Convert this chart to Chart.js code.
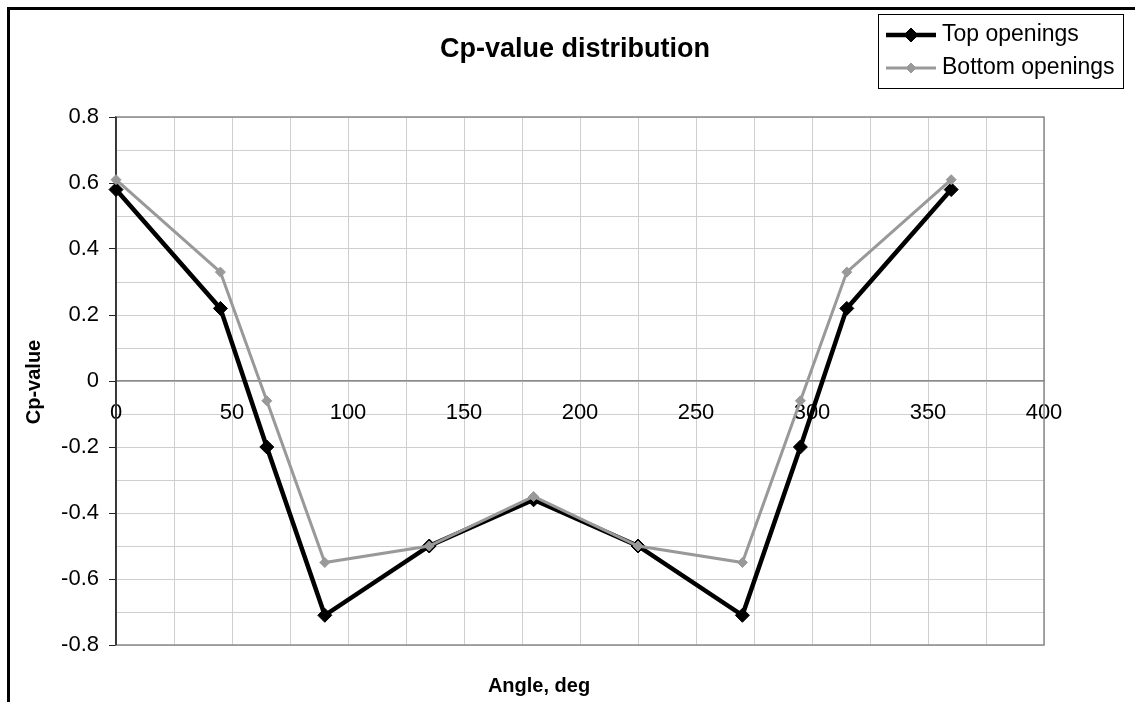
<!DOCTYPE html>
<html><head><meta charset="utf-8">
<script src="https://cdn.jsdelivr.net/npm/chart.js@4.4.0/dist/chart.umd.min.js"></script>
<style>html,body{margin:0;padding:0;background:#fff;overflow:hidden}canvas{display:block}</style>
</head><body>
<canvas id="c" width="1135" height="702"></canvas>
<script>
// ---- data ----
const angles = [0, 45, 65, 90, 135, 180, 225, 270, 295, 315, 360];
const topOpenings = [0.58, 0.22, -0.20, -0.71, -0.50, -0.36, -0.50, -0.71, -0.20, 0.22, 0.58];
const bottomOpenings = [0.61, 0.33, -0.06, -0.55, -0.50, -0.35, -0.50, -0.55, -0.06, 0.33, 0.61];
const seriesNames = ['Top openings', 'Bottom openings'];
const xTickLabels = [0, 50, 100, 150, 200, 250, 300, 350, 400];
const yTickLabels = [-0.8, -0.6, -0.4, -0.2, 0, 0.2, 0.4, 0.6, 0.8];
const chartTitle = 'Cp-value distribution';
const xAxisTitle = 'Angle, deg';
const yAxisTitle = 'Cp-value';

const FONT = "'Liberation Sans', Arial, sans-serif";
const TOP_COLOR = '#000000';
const BOTTOM_COLOR = '#999999';
const GRID = '#cfcfcf';

function near(list, v, eps) { return list.some(t => Math.abs(t - v) < eps); }

const deco = {
  id: 'deco',
  beforeDraw(chart) {
    const ctx = chart.ctx;
    ctx.save();
    ctx.fillStyle = '#fff';
    ctx.fillRect(0, 0, chart.width, chart.height);
    ctx.restore();
  },
  beforeDatasetsDraw(chart) {
    const {ctx, chartArea: a} = chart;
    ctx.save();
    ctx.strokeStyle = '#8a8a8a';
    ctx.lineWidth = 1.5;
    ctx.strokeRect(a.left, a.top, a.right - a.left, a.bottom - a.top);
    ctx.strokeStyle = '#222';
    ctx.lineWidth = 1.5;
    ctx.beginPath(); ctx.moveTo(a.left, a.top); ctx.lineTo(a.left, a.bottom); ctx.stroke();
    ctx.restore();
  },
  afterDraw(chart) {
    const {ctx} = chart;
    ctx.save();
    // outer frame (top and left)
    ctx.strokeStyle = '#000';
    ctx.lineWidth = 3;
    ctx.beginPath();
    ctx.moveTo(8.5, chart.height); ctx.lineTo(8.5, 8.5); ctx.lineTo(chart.width, 8.5);
    ctx.stroke();
    // title
    ctx.fillStyle = '#000';
    ctx.font = 'bold 27px ' + FONT;
    ctx.textAlign = 'center';
    ctx.textBaseline = 'middle';
    ctx.fillText(chartTitle, 575, 50);
    // axis titles
    ctx.font = 'bold 20px ' + FONT;
    ctx.fillText(xAxisTitle, 539, 686);
    ctx.save();
    ctx.translate(34, 382);
    ctx.rotate(-Math.PI / 2);
    ctx.fillText(yAxisTitle, 0, 0);
    ctx.restore();
    // legend
    ctx.strokeStyle = '#000';
    ctx.lineWidth = 1;
    ctx.strokeRect(878.5, 14.5, 245, 74);
    const ds = chart.data.datasets;
    const rows = [35, 68];
    ds.forEach((d, i) => {
      const y = rows[i];
      ctx.strokeStyle = d.borderColor;
      ctx.lineWidth = d.borderWidth;
      ctx.beginPath(); ctx.moveTo(886, y); ctx.lineTo(936, y); ctx.stroke();
      ctx.fillStyle = d.pointBackgroundColor;
      ctx.strokeStyle = d.pointBorderColor;
      ctx.lineWidth = 1;
      ctx.beginPath();
      const r = d.pointRadius;
      ctx.moveTo(911, y - r); ctx.lineTo(911 + r, y); ctx.lineTo(911, y + r); ctx.lineTo(911 - r, y); ctx.closePath();
      ctx.fill(); ctx.stroke();
      ctx.fillStyle = '#000';
      ctx.font = '23px ' + FONT;
      ctx.textAlign = 'left';
      ctx.textBaseline = 'middle';
      ctx.fillText(d.label, 942, y);
    });
    ctx.restore();
  }
};

const toXY = (xs, ys) => xs.map((x, i) => ({x: x, y: ys[i]}));

new Chart(document.getElementById('c'), {
  type: 'line',
  data: {
    datasets: [
      {
        label: seriesNames[0],
        data: toXY(angles, topOpenings),
        borderColor: TOP_COLOR,
        borderWidth: 4.5,
        pointStyle: 'rectRot',
        pointRadius: 7,
        pointBackgroundColor: TOP_COLOR,
        pointBorderColor: TOP_COLOR,
        pointBorderWidth: 1,
        tension: 0,
        clip: false,
        order: 1
      },
      {
        label: seriesNames[1],
        data: toXY(angles, bottomOpenings),
        borderColor: BOTTOM_COLOR,
        borderWidth: 3,
        pointStyle: 'rectRot',
        pointRadius: 5,
        pointBackgroundColor: BOTTOM_COLOR,
        pointBorderColor: BOTTOM_COLOR,
        pointBorderWidth: 1,
        tension: 0,
        clip: false,
        order: 0
      }
    ]
  },
  options: {
    responsive: false,
    animation: false,
    devicePixelRatio: 1,
    layout: {padding: {left: 0, top: 117, right: 91, bottom: 57}},
    plugins: {legend: {display: false}, title: {display: false}, tooltip: {enabled: false}},
    scales: {
      x: {
        type: 'linear',
        position: {y: 0},
        min: 0, max: 400,
        ticks: {
          stepSize: 25,
          autoSkip: false,
          maxRotation: 0,
          padding: 19,
          color: '#000',
          font: {family: FONT, size: 22},
          callback: v => near(xTickLabels, v, 1e-6) ? String(v) : ''
        },
        grid: {color: GRID, lineWidth: 1, drawTicks: false},
        border: {display: true, color: '#8a8a8a', width: 1.5}
      },
      y: {
        type: 'linear',
        position: 'left',
        min: -0.8, max: 0.8,
        afterFit: s => { s.width = 116; },
        ticks: {
          stepSize: 0.1,
          autoSkip: false,
          padding: 10,
          color: '#000',
          font: {family: FONT, size: 22},
          callback: v => near(yTickLabels, v, 1e-6) ? String(Math.round(v * 10) / 10) : ''
        },
        grid: {
          color: GRID,
          lineWidth: 1,
          tickLength: 7,
          tickColor: c => (c.index % 2 === 0 ? '#222' : 'rgba(0,0,0,0)')
        },
        border: {display: true, color: '#222', width: 1.5}
      }
    }
  },
  plugins: [deco]
});
</script>
</body></html>
